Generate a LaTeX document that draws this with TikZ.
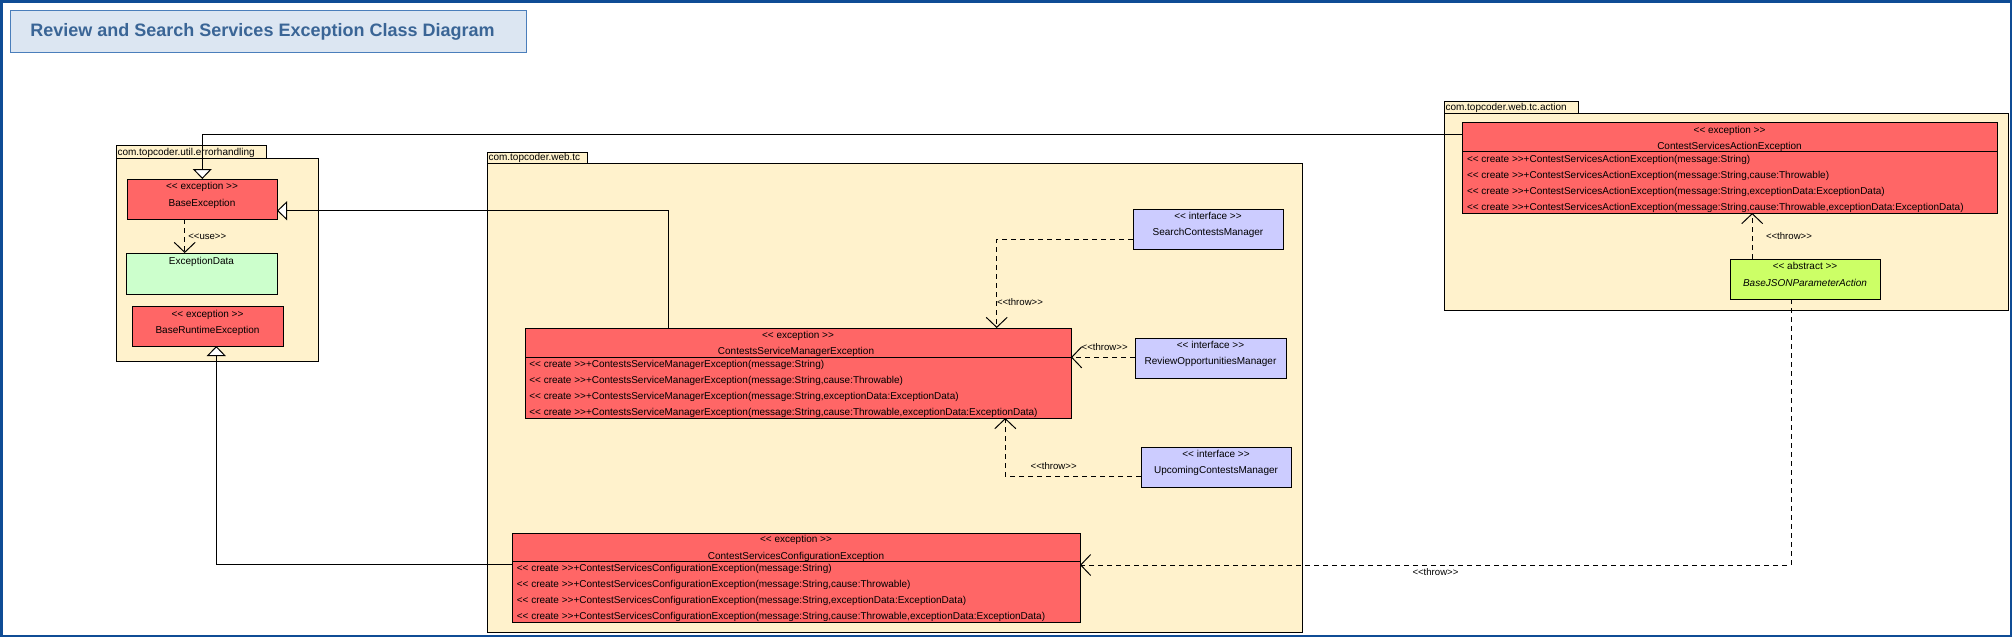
\documentclass[tikz,border=0pt]{standalone}
\usepackage{fontspec}
\setmainfont{Liberation Sans}
\usetikzlibrary{arrows.meta}
\definecolor{pkgfill}{HTML}{FFF2CC}
\definecolor{exfill}{HTML}{FF6666}
\definecolor{datafill}{HTML}{CCFFCC}
\definecolor{iffill}{HTML}{CCCCFF}
\definecolor{absfill}{HTML}{CCFF66}
\definecolor{framecol}{HTML}{0F4C95}
\definecolor{titlefill}{HTML}{DCE6F2}
\definecolor{titledraw}{HTML}{4A7EBB}
\definecolor{titletext}{HTML}{3A6596}
\newcommand{\sto}{<{}<}
\newcommand{\stc}{>{}>}
\begin{document}
\begin{tikzpicture}[x=1pt,y=-1pt,
  every node/.style={inner sep=0pt, outer sep=0pt},
  pkgbox/.style={draw=black, fill=pkgfill, line width=1pt, anchor=north west},
  clsbox/.style={draw=black, line width=1pt, anchor=north west},
  txt/.style={font=\fontsize{10}{12}\selectfont, anchor=base},
  txtl/.style={txt, anchor=base west},
  lbl/.style={font=\fontsize{9.6}{11}\selectfont, anchor=base west},
  gen/.style={draw=black, line width=1pt, -{Triangle[width=19pt,length=10pt,fill=white,line width=1pt]}},
  dep/.style={draw=black, line width=1pt, dash pattern=on 5pt off 4pt, -{Straight Barb[length=10pt,width=21pt,line width=1pt]}},
]
\useasboundingbox (0,0) rectangle (2012,637);
\fill[white] (0,0) rectangle (2012,637);
\draw[framecol, line width=2.5pt] (1.25,1.25) rectangle (2010.75,635.75);

% title
\node[draw=titledraw, fill=titlefill, line width=1pt, anchor=north west, minimum width=516pt, minimum height=42pt] (titlebox) at (10,10) {};
\node[anchor=base west, font=\fontsize{18}{22}\selectfont\bfseries, text=titletext] (title) at (30.4,36.7) {Review and Search Services Exception Class Diagram};

% packages
\node[pkgbox, minimum width=150pt, minimum height=13pt] (ehTab) at (116,145) {};
\node[pkgbox, minimum width=202pt, minimum height=203pt] (ehBody) at (116,158) {};
\node[txtl] (ehName) at (117.5,155.5) {com.topcoder.util.errorhandling};

\node[pkgbox, minimum width=100pt, minimum height=11pt] (tcTab) at (487,152) {};
\node[pkgbox, minimum width=815pt, minimum height=469pt] (tcBody) at (487,163) {};
\node[txtl] (tcName) at (488.5,160.5) {com.topcoder.web.tc};

\node[pkgbox, minimum width=134pt, minimum height=12pt] (acTab) at (1444,101) {};
\node[pkgbox, minimum width=564pt, minimum height=197pt] (acBody) at (1444,113) {};
\node[txtl] (acName) at (1445.5,110.5) {com.topcoder.web.tc.action};

% classes
\node[clsbox, fill=exfill, minimum width=150pt, minimum height=40pt] (bexc) at (127,179) {};
\node[txt] (bexcS) at (202,189.5) {\sto{} exception \stc};
\node[txt] (bexcN) at (202,206) {BaseException};

\node[clsbox, fill=datafill, minimum width=151pt, minimum height=41pt] (edata) at (126,253) {};
\node[txt] (edataN) at (201.5,264) {ExceptionData};

\node[clsbox, fill=exfill, minimum width=151pt, minimum height=40pt] (bre) at (132,306) {};
\node[txt] (breS) at (207.5,317.2) {\sto{} exception \stc};
\node[txt] (breN) at (207.5,333.2) {BaseRuntimeException};

\node[clsbox, fill=exfill, minimum width=546pt, minimum height=90pt] (csme) at (525,328) {};
\draw[line width=1pt] (525,357) -- (1071,357);
\node[txt] (csmeS) at (798,338.9) {\sto{} exception \stc};
\node[txt] (csmeN) at (796,354.9) {ContestsServiceManagerException};
\node[txtl] (csmeR1) at (529.3,367.7) {\sto{} create \stc+ContestsServiceManagerException(message:String)};
\node[txtl] (csmeR2) at (529.3,383.7) {\sto{} create \stc+ContestsServiceManagerException(message:String,cause:Throwable)};
\node[txtl] (csmeR3) at (529.3,399.7) {\sto{} create \stc+ContestsServiceManagerException(message:String,exceptionData:ExceptionData)};
\node[txtl] (csmeR4) at (529.3,415.4) {\sto{} create \stc+ContestsServiceManagerException(message:String,cause:Throwable,exceptionData:ExceptionData)};

\node[clsbox, fill=iffill, minimum width=150pt, minimum height=40pt] (scm) at (1133,209) {};
\node[txt] (scmS) at (1208,219.9) {\sto{} interface \stc};
\node[txt] (scmN) at (1208,235.9) {SearchContestsManager};

\node[clsbox, fill=iffill, minimum width=151pt, minimum height=40pt] (rom) at (1135,338) {};
\node[txt] (romS) at (1210.5,348.9) {\sto{} interface \stc};
\node[txt] (romN) at (1210.5,364.9) {ReviewOpportunitiesManager};

\node[clsbox, fill=iffill, minimum width=150pt, minimum height=40pt] (ucm) at (1141,447) {};
\node[txt] (ucmS) at (1216,457.9) {\sto{} interface \stc};
\node[txt] (ucmN) at (1216,473.9) {UpcomingContestsManager};

\node[clsbox, fill=exfill, minimum width=568pt, minimum height=89pt] (csce) at (512,533) {};
\draw[line width=1pt] (512,561) -- (1080,561);
\node[txt] (csceS) at (796,542.9) {\sto{} exception \stc};
\node[txt] (csceN) at (796,559.2) {ContestServicesConfigurationException};
\node[txtl] (csceR1) at (516.8,571.9) {\sto{} create \stc+ContestServicesConfigurationException(message:String)};
\node[txtl] (csceR2) at (516.8,587.9) {\sto{} create \stc+ContestServicesConfigurationException(message:String,cause:Throwable)};
\node[txtl] (csceR3) at (516.8,603.9) {\sto{} create \stc+ContestServicesConfigurationException(message:String,exceptionData:ExceptionData)};
\node[txtl] (csceR4) at (516.8,619.5) {\sto{} create \stc+ContestServicesConfigurationException(message:String,cause:Throwable,exceptionData:ExceptionData)};

\node[clsbox, fill=exfill, minimum width=535pt, minimum height=91pt] (csae) at (1462,122) {};
\draw[line width=1pt] (1462,151) -- (1997,151);
\node[txt] (csaeS) at (1729.5,133.2) {\sto{} exception \stc};
\node[txt] (csaeN) at (1729.5,149.2) {ContestServicesActionException};
\node[txtl] (csaeR1) at (1467,162.9) {\sto{} create \stc+ContestServicesActionException(message:String)};
\node[txtl] (csaeR2) at (1467,178.9) {\sto{} create \stc+ContestServicesActionException(message:String,cause:Throwable)};
\node[txtl] (csaeR3) at (1467,194.9) {\sto{} create \stc+ContestServicesActionException(message:String,exceptionData:ExceptionData)};
\node[txtl] (csaeR4) at (1467,210.7) {\sto{} create \stc+ContestServicesActionException(message:String,cause:Throwable,exceptionData:ExceptionData)};

\node[clsbox, fill=absfill, minimum width=150pt, minimum height=40pt] (bjpa) at (1730,259) {};
\node[txt] (bjpaS) at (1805,269.9) {\sto{} abstract \stc};
\node[txt, font=\fontsize{10}{12}\selectfont\itshape] (bjpaN) at (1805,286.5) {BaseJSONParameterAction};

% connectors
\coordinate (b1) at (202.3,134.3);
\draw[gen] (csae.west |- b1) -- (b1) -- (b1 |- bexc.north);
\coordinate (b2) at (668.7,210.7);
\draw[gen] (b2 |- csme.north) -- (b2) -- (b2 -| bexc.east);
\coordinate (b3) at (216.3,564.3);
\draw[gen] (csce.west |- b3) -- (b3) -- (b3 |- bre.south);
\coordinate (b4) at (184.7,0);
\draw[dep] (b4 |- bexc.south) -- (b4 |- edata.north);
\coordinate (b5) at (996.7,239.3);
\draw[dep] (scm.west |- b5) -- (b5) -- (b5 |- csme.north);
\coordinate (b6) at (0,357.3);
\draw[dep] (rom.west |- b6) -- (csme.east |- b6);
\coordinate (b7) at (1005.3,476.3);
\draw[dep] (ucm.west |- b7) -- (b7) -- (b7 |- csme.south);
\coordinate (b8) at (1752.2,0);
\draw[dep] (b8 |- bjpa.north) -- (b8 |- csae.south);
\coordinate (b9) at (1791.2,565);
\draw[dep] (b9 |- bjpa.south) -- (b9) -- (csce.east |- b9);

% labels
\node[lbl] (l1) at (188.3,239.3) {\sto{}use\stc};
\node[lbl] (l2) at (997,305.6) {\sto{}throw\stc};
\node[lbl] (l3) at (1081.7,350) {\sto{}throw\stc};
\node[lbl] (l4) at (1030.7,469) {\sto{}throw\stc};
\node[lbl] (l5) at (1766,239) {\sto{}throw\stc};
\node[lbl] (l6) at (1412.5,575) {\sto{}throw\stc};
\end{tikzpicture}
\end{document}
